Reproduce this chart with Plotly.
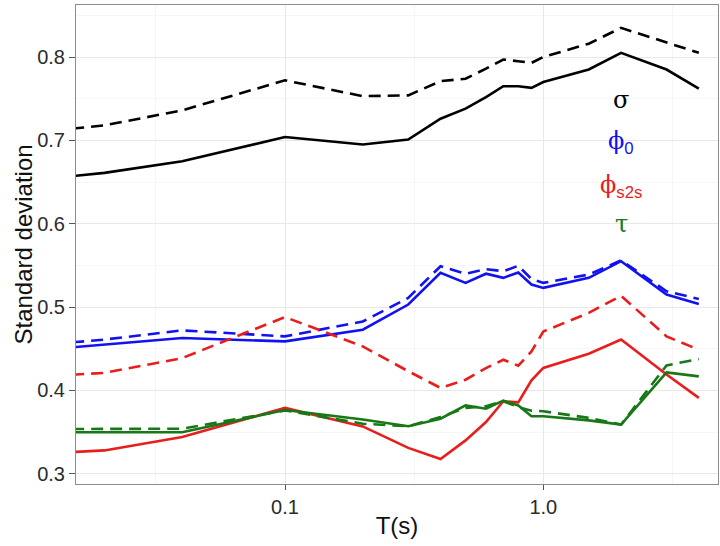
import math
import plotly.graph_objects as go

# ---- data ----
periods = [0.015, 0.02, 0.04, 0.1, 0.2, 0.3, 0.4, 0.5, 0.6, 0.7, 0.8, 0.9, 1.0, 1.5, 2.0, 3.0, 4.0]

sigma_solid = [0.657, 0.661, 0.675, 0.704, 0.695, 0.701, 0.726, 0.738, 0.752, 0.765, 0.765, 0.763, 0.770, 0.785, 0.805, 0.785, 0.762]
sigma_dash  = [0.714, 0.718, 0.736, 0.772, 0.753, 0.754, 0.771, 0.774, 0.786, 0.797, 0.795, 0.793, 0.800, 0.816, 0.835, 0.817, 0.805]

phi0_solid = [0.4516, 0.455, 0.4628, 0.4588, 0.4728, 0.503, 0.541, 0.529, 0.540, 0.535, 0.5415, 0.527, 0.523, 0.535, 0.555, 0.515, 0.5036]
phi0_dash  = [0.4576, 0.461, 0.472, 0.4648, 0.4827, 0.511, 0.549, 0.540, 0.5455, 0.543, 0.5495, 0.5336, 0.529, 0.539, 0.556, 0.519, 0.5096]

phis2s_solid = [0.326, 0.328, 0.344, 0.379, 0.3568, 0.331, 0.3177, 0.340, 0.362, 0.387, 0.3856, 0.412, 0.427, 0.444, 0.461, 0.419, 0.391]
phis2s_dash  = [0.4188, 0.421, 0.4388, 0.488, 0.4528, 0.423, 0.403, 0.4128, 0.4268, 0.4368, 0.4296, 0.4468, 0.4707, 0.493, 0.5135, 0.4648, 0.4488]

tau_solid = [0.3497, 0.3497, 0.3497, 0.3764, 0.365, 0.357, 0.366, 0.382, 0.378, 0.3877, 0.382, 0.369, 0.369, 0.364, 0.3589, 0.4216, 0.4168]
tau_dash  = [0.3537, 0.354, 0.354, 0.376, 0.360, 0.357, 0.368, 0.379, 0.381, 0.387, 0.380, 0.3757, 0.375, 0.367, 0.359, 0.430, 0.4377]

label_symbols = ["σ", "ϕ", "ϕ", "τ"]
label_subs = ["", "0", "s2s", ""]
label_y = [0.748, 0.698, 0.645, 0.600]
label_x = 2.0

x_ticks = [0.1, 1.0]
x_tick_text = ["0.1", "1.0"]
x_minor = [0.0316, 0.316, 3.16]
y_ticks = [0.3, 0.4, 0.5, 0.6, 0.7, 0.8]
y_tick_text = ["0.3", "0.4", "0.5", "0.6", "0.7", "0.8"]
y_minor = [0.35, 0.45, 0.55, 0.65, 0.75, 0.85]

colors = ["#000000", "#1212f0", "#ea1d1d", "#187818"]
series = [
    (sigma_solid, sigma_dash),
    (phi0_solid, phi0_dash),
    (phis2s_solid, phis2s_dash),
    (tau_solid, tau_dash),
]

fig = go.Figure()
for (solid, dash), col in zip(series, colors):
    fig.add_trace(go.Scatter(x=periods, y=dash, mode="lines",
                             line=dict(color=col, width=2.6, dash="12px,7px"),
                             showlegend=False, hoverinfo="skip"))
    fig.add_trace(go.Scatter(x=periods, y=solid, mode="lines",
                             line=dict(color=col, width=2.6),
                             showlegend=False, hoverinfo="skip"))

for sym, sub, yv, col in zip(label_symbols, label_subs, label_y, colors):
    txt = '<span style="font-family:DejaVu Serif">' + sym + '</span>'
    if sub:
        txt += "<sub>" + sub + "</sub>"
    fig.add_annotation(x=math.log10(label_x), y=yv, xref="x", yref="y", text=txt,
                       showarrow=False, font=dict(family="Liberation Sans, Arial", size=24, color=col),
                       xanchor="center", yanchor="middle")

# y-axis title placed as a rotated annotation for exact positioning
fig.add_annotation(x=-0.0810, y=0.5, xref="paper", yref="paper", text="Standard deviation",
                   textangle=-90, showarrow=False, xanchor="center", yanchor="middle",
                   font=dict(family="Liberation Sans, Arial", size=24, color="#111111"))

axis_font = dict(family="Liberation Sans, Arial", size=20, color="#2b2b2b")
fig.update_layout(
    width=720, height=546,
    margin=dict(l=76, r=2, t=5, b=62),
    paper_bgcolor="white", plot_bgcolor="white",
    xaxis=dict(type="log", range=[-1.8091, 0.6763],
               tickmode="array", tickvals=x_ticks, ticktext=x_tick_text,
               tickfont=axis_font, ticks="outside", ticklen=5, tickcolor="#555555",
               showgrid=True, gridcolor="#e8e8e8", gridwidth=1,
               minor=dict(tickmode="array", tickvals=x_minor, showgrid=True,
                          gridcolor="#f6f6f6", ticks=""),
               showline=True, linecolor="#8c8c8c", linewidth=1, mirror=True,
               zeroline=False,
               title=dict(text="T(s)", font=dict(family="Liberation Sans, Arial", size=24, color="#111111"),
                          standoff=0)),
    yaxis=dict(range=[0.2877, 0.8624],
               tickmode="array", tickvals=y_ticks, ticktext=y_tick_text,
               tickfont=axis_font, ticks="outside", ticklen=6, tickcolor="#555555",
               showgrid=True, gridcolor="#e8e8e8", gridwidth=1,
               minor=dict(tickmode="array", tickvals=y_minor, showgrid=True,
                          gridcolor="#f6f6f6", ticks=""),
               showline=True, linecolor="#8c8c8c", linewidth=1, mirror=True,
               zeroline=False),
)

fig.write_html("out.html")
